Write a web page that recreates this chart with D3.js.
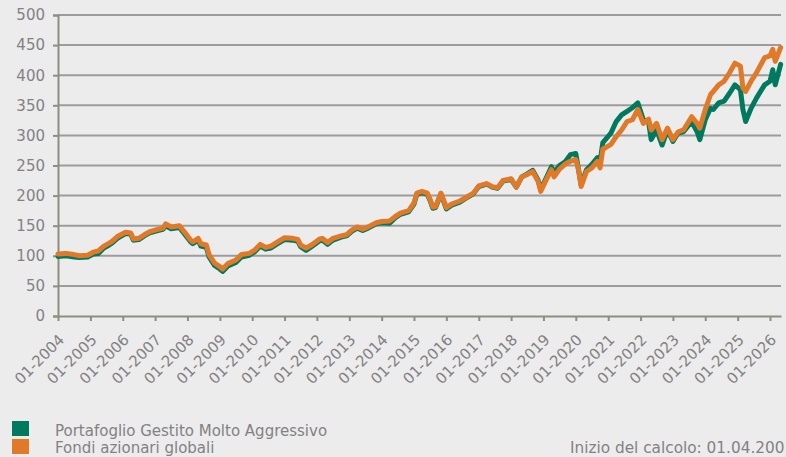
<!DOCTYPE html>
<html>
<head>
<meta charset="utf-8">
<script src="https://cdn.jsdelivr.net/npm/d3@7"></script>
<style>
  html, body { margin: 0; padding: 0; background: #ececec; }
  svg { display: block; }
</style>
</head>
<body>
<div id="chart"></div>
<script>
// monthly observation dates (YYYY-MM)
const DATES = [
  "2004-01","2004-04","2004-07","2004-09","2004-12","2005-02","2005-04","2005-06","2005-08","2005-09","2005-11",
  "2006-02","2006-04","2006-05","2006-07","2006-09","2006-11","2007-02","2007-04","2007-05","2007-07","2007-10","2007-12",
  "2008-02","2008-03","2008-05","2008-06","2008-08","2008-09","2008-11","2009-01","2009-02","2009-04","2009-07","2009-09","2009-12",
  "2010-02","2010-04","2010-06","2010-08","2010-10","2011-01","2011-04","2011-06","2011-07","2011-09","2011-11",
  "2012-02","2012-03","2012-05","2012-07","2012-10","2012-12","2013-02","2013-04","2013-06","2013-08","2013-11",
  "2014-01","2014-04","2014-06","2014-08","2014-11","2015-01","2015-02","2015-04","2015-06","2015-07","2015-08","2015-09","2015-11",
  "2016-01","2016-03","2016-06","2016-08","2016-11","2017-01","2017-04","2017-06","2017-08","2017-10",
  "2018-01","2018-03","2018-05","2018-07","2018-09","2018-11","2018-12","2019-02","2019-04","2019-05","2019-07","2019-09","2019-11",
  "2020-01","2020-02","2020-03","2020-05","2020-07","2020-09","2020-10","2020-11","2021-02","2021-04","2021-06","2021-08","2021-10","2021-12",
  "2022-02","2022-04","2022-05","2022-07","2022-09","2022-11","2023-01","2023-03","2023-05","2023-08","2023-10","2023-11",
  "2024-01","2024-03","2024-04","2024-06","2024-08","2024-10","2024-12","2025-02","2025-03","2025-04","2025-06","2025-08","2025-11",
  "2026-01","2026-02","2026-03","2026-05"
];

// Portafoglio Gestito Molto Aggressivo
const PORTFOLIO = [
  99,100,98,97,98,103,104,113,118,121,129,
  137,136,126,127,133,138,142,144,150,145,147,136,
  124,120,126,116,114,98,84,78,74,83,89,98,101,
  107,116,111,113,119,127,126,124,115,109,115,
  125,126,119,126,131,133,141,146,142,146,153,
  155,154,163,169,173,186,202,205,202,192,179,180,203,
  178,184,189,195,203,215,219,214,212,224,
  227,214,231,236,242,226,210,229,248,238,250,256,268,
  270,243,218,243,252,263,256,288,304,323,334,340,346,354,
  326,323,293,309,284,309,290,304,306,323,306,293,
  326,345,343,354,357,370,384,376,343,323,345,362,384,
  390,409,384,418
];

// Fondi azionari globali
const FUNDS = [
  103,104,102,100,101,106,108,116,121,124,132,
  139,138,128,129,135,140,144,146,153,148,150,139,
  127,123,129,120,118,102,88,82,78,87,93,102,104,
  110,119,114,116,122,130,129,127,118,113,118,
  128,129,122,129,133,135,143,148,144,148,155,
  157,158,165,171,175,188,204,207,204,194,181,182,204,
  180,186,191,196,204,216,220,215,213,225,
  228,214,231,235,240,224,207,226,243,231,244,252,257,
  260,243,215,240,246,257,246,277,285,298,309,323,326,343,
  320,327,309,320,293,312,293,306,309,331,320,312,
  343,368,373,384,390,404,420,415,379,373,390,404,429,
  432,443,423,446
];

const Y_TICKS = [0, 50, 100, 150, 200, 250, 300, 350, 400, 450, 500];
const X_TICK_YEARS = d3.range(2004, 2027);
const SERIES = [
  { name: "Portafoglio Gestito Molto Aggressivo", values: PORTFOLIO, color: "#007a5e" },
  { name: "Fondi azionari globali", values: FUNDS, color: "#e07a28" }
];

const W = 786, H = 457;
const FONT = "'DejaVu Sans', Verdana, sans-serif";
const TXT = "#828282";

const parse = d3.timeParse("%Y-%m");
const dates = DATES.map(parse);

const svg = d3.select("#chart").append("svg")
  .attr("width", W).attr("height", H)
  .style("font-family", FONT);

svg.append("rect").attr("width", W).attr("height", H).attr("fill", "#ececec");

const x = d3.scaleTime()
  .domain([new Date(2004, 0, 1), new Date(2026, 4, 5)])
  .range([58, 781]);
const y = d3.scaleLinear().domain([0, 500]).range([316, 15]);

// gridlines
svg.append("g").selectAll("line").data(Y_TICKS.filter(d => d > 0)).enter().append("line")
  .attr("x1", 58).attr("x2", 781)
  .attr("y1", d => y(d)).attr("y2", d => y(d))
  .attr("stroke", "#9c9c9c").attr("stroke-width", 2);

// y axis
const yAxis = svg.append("g").attr("transform", "translate(58,0)")
  .call(d3.axisLeft(y).tickValues(Y_TICKS).tickSize(5).tickPadding(8));
yAxis.select(".domain").attr("stroke", "#8e8e80").attr("stroke-width", 2);
yAxis.selectAll(".tick line").attr("stroke", "#8e8e80").attr("stroke-width", 2);
yAxis.selectAll("text").attr("fill", TXT).style("font-size", "15px").style("font-family", FONT);

// x axis
const xAxis = svg.append("g").attr("transform", "translate(0,316)")
  .call(d3.axisBottom(x).tickValues(X_TICK_YEARS.map(yr => new Date(yr, 0, 1)))
    .tickFormat(d3.timeFormat("%m-%Y")).tickSize(5).tickSizeOuter(0));
xAxis.select(".domain").attr("stroke", "#8e8e80").attr("stroke-width", 2);
xAxis.selectAll(".tick line").attr("stroke", "#8e8e80").attr("stroke-width", 2);
xAxis.selectAll("text")
  .attr("fill", TXT).style("font-size", "15px").style("font-family", FONT)
  .attr("text-anchor", "end")
  .attr("dy", "0.35em").attr("y", 0)
  .attr("transform", "translate(3,21) rotate(-45)");

// lines
const line = d3.line()
  .x((d, i) => x(dates[i]))
  .y(d => y(d))
  .curve(d3.curveLinear);

SERIES.forEach(s => {
  svg.append("path")
    .datum(s.values)
    .attr("d", line)
    .attr("fill", "none")
    .attr("stroke", s.color)
    .attr("stroke-width", 5)
    .attr("stroke-linejoin", "round")
    .attr("stroke-linecap", "round");
});

// legend
const legend = svg.append("g");
SERIES.forEach((s, i) => {
  legend.append("rect")
    .attr("x", 12).attr("y", 421 + i * 18).attr("width", 17).attr("height", 15)
    .attr("fill", s.color);
  legend.append("text")
    .attr("x", 55).attr("y", 436 + i * 17)
    .attr("fill", TXT).style("font-size", "15px")
    .text(s.name);
});

// footnote, cut at the right edge as in the original
svg.append("text")
  .attr("x", 570).attr("y", 453)
  .attr("fill", TXT).style("font-size", "15.3px")
  .text("Inizio del calcolo: 01.04.200");
</script>
</body>
</html>
